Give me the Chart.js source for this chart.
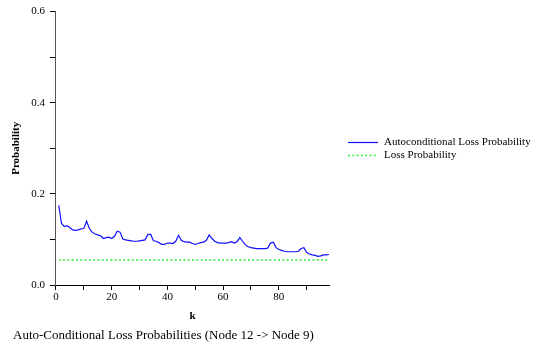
<!DOCTYPE html>
<html>
<head>
<meta charset="utf-8">
<script src="https://cdn.jsdelivr.net/npm/chart.js@4/dist/chart.umd.min.js"></script>
<style>
  html, body { margin: 0; padding: 0; background: #fff; }
  #wrap { width: 535px; height: 345px; }
</style>
</head>
<body>
<div id="wrap"><canvas id="lossChart" width="535" height="345"></canvas></div>
<script>
// lag k (x axis)
const kValues = [
   1,  2,  3,  4,  5,  6,  7,  8,  9, 10, 11, 12, 13, 14, 15, 16, 17, 18, 19, 20,
  21, 22, 23, 24, 25, 26, 27, 28, 29, 30, 31, 32, 33, 34, 35, 36, 37, 38, 39, 40,
  41, 42, 43, 44, 45, 46, 47, 48, 49, 50, 51, 52, 53, 54, 55, 56, 57, 58, 59, 60,
  61, 62, 63, 64, 65, 66, 67, 68, 69, 70, 71, 72, 73, 74, 75, 76, 77, 78, 79, 80,
  81, 82, 83, 84, 85, 86, 87, 88, 89, 90, 91, 92, 93, 94, 95, 96, 97, 98
];

// autoconditional loss probability
const autoLoss = [
  0.175, 0.135, 0.128, 0.130, 0.126, 0.121, 0.120, 0.121, 0.123, 0.124,
  0.140, 0.124, 0.116, 0.112, 0.110, 0.108, 0.102, 0.104, 0.105, 0.102,
  0.107, 0.118, 0.116, 0.101, 0.099, 0.098, 0.097, 0.096, 0.096, 0.097,
  0.098, 0.099, 0.111, 0.111, 0.097, 0.096, 0.093, 0.089, 0.089, 0.092,
  0.092, 0.091, 0.096, 0.109, 0.098, 0.095, 0.094, 0.094, 0.091, 0.089,
  0.091, 0.093, 0.094, 0.098, 0.110, 0.102, 0.096, 0.093, 0.092, 0.092,
  0.092, 0.093, 0.095, 0.092, 0.095, 0.104, 0.096, 0.088, 0.084, 0.082,
  0.081, 0.080, 0.080, 0.080, 0.080, 0.081, 0.092, 0.094, 0.082, 0.078,
  0.076, 0.074, 0.073, 0.073, 0.073, 0.073, 0.074, 0.080, 0.082, 0.071,
  0.068, 0.066, 0.065, 0.063, 0.064, 0.066, 0.066, 0.067
];

// plain loss probability (flat)
const lossK = [1, 98];
const lossValues = [0.055, 0.055];

const seriesLabels = ['Autoconditional Loss Probability', 'Loss Probability'];
const captionText = 'Auto-Conditional Loss Probabilities (Node 12 -> Node 9)';

const serif = "'Liberation Serif', 'Times New Roman', serif";

// legend drawn by hand so it can sit right of the plot
const sideLegend = {
  id: 'sideLegend',
  afterDraw(chart) {
    const { ctx, chartArea } = chart;
    const midY = (chartArea.top + chartArea.bottom) / 2;
    const x0 = chartArea.right + 19;
    ctx.save();
    ctx.font = '11px ' + serif;
    ctx.textBaseline = 'middle';
    chart.data.datasets.forEach((ds, i) => {
      const y = Math.round(midY - 6.5 + i * 13) + 0.5;
      ctx.strokeStyle = ds.borderColor;
      ctx.lineWidth = ds.borderWidth;
      ctx.setLineDash(ds.borderDash || []);
      ctx.beginPath();
      ctx.moveTo(x0, y);
      ctx.lineTo(x0 + 30, y);
      ctx.stroke();
      ctx.fillStyle = '#000';
      ctx.fillText(ds.label, x0 + 36, y);
    });
    ctx.restore();
  }
};

const ctx = document.getElementById('lossChart');

const lossChart = new Chart(ctx, {
  type: 'line',
  data: {
    datasets: [
      {
        label: seriesLabels[0],
        data: kValues.map((k, i) => ({ x: k, y: autoLoss[i] })),
        borderColor: '#1010ff',
        borderWidth: 1.2,
        pointRadius: 0,
        tension: 0,
        fill: false
      },
      {
        label: seriesLabels[1],
        data: lossK.map((k, i) => ({ x: k, y: lossValues[i] })),
        borderColor: '#33ee33',
        borderWidth: 1.5,
        borderDash: [2, 2.3],
        pointRadius: 0,
        fill: false
      }
    ]
  },
  options: {
    responsive: false,
    animation: false,
    devicePixelRatio: 1,
    layout: {
      padding: { left: 13, right: 206, top: 8, bottom: 0 }
    },
    plugins: {
      legend: { display: false },
      tooltip: { enabled: false },
      title: {
        display: true,
        text: captionText,
        position: 'bottom',
        align: 'start',
        color: '#000',
        font: { family: serif, size: 13, weight: 'normal' },
        padding: { top: 5, bottom: 2 }
      }
    },
    scales: {
      x: {
        type: 'linear',
        min: 0,
        max: 98,
        afterBuildTicks: axis => {
          axis.ticks = axis.ticks.filter(t => t.value % 10 === 0);
        },
        ticks: {
          stepSize: 10,
          autoSkip: false,
          maxRotation: 0,
          color: '#000',
          padding: 1,
          font: { family: serif, size: 11 },
          callback: v => (v % 20 === 0 ? String(v) : '')
        },
        grid: {
          drawOnChartArea: false,
          drawTicks: true,
          tickLength: 5,
          tickColor: '#000'
        },
        border: { color: '#000', width: 1 },
        title: {
          display: true,
          text: 'k',
          color: '#000',
          font: { family: serif, size: 11, weight: 'bold' },
          padding: { top: 4, bottom: 0 }
        }
      },
      y: {
        min: 0,
        max: 0.6,
        ticks: {
          stepSize: 0.1,
          autoSkip: false,
          color: '#000',
          padding: 5,
          font: { family: serif, size: 11 },
          callback: v => (Math.round(v * 10) % 2 === 0 ? v.toFixed(1) : '')
        },
        grid: {
          drawOnChartArea: false,
          drawTicks: true,
          tickLength: 6,
          tickColor: '#000'
        },
        border: { color: '#555', width: 1 },
        title: {
          display: true,
          text: 'Probability',
          color: '#000',
          font: { family: serif, size: 11, weight: 'bold' },
          padding: { top: -3, bottom: 3 }
        }
      }
    }
  },
  plugins: [sideLegend]
});
</script>
</body>
</html>
